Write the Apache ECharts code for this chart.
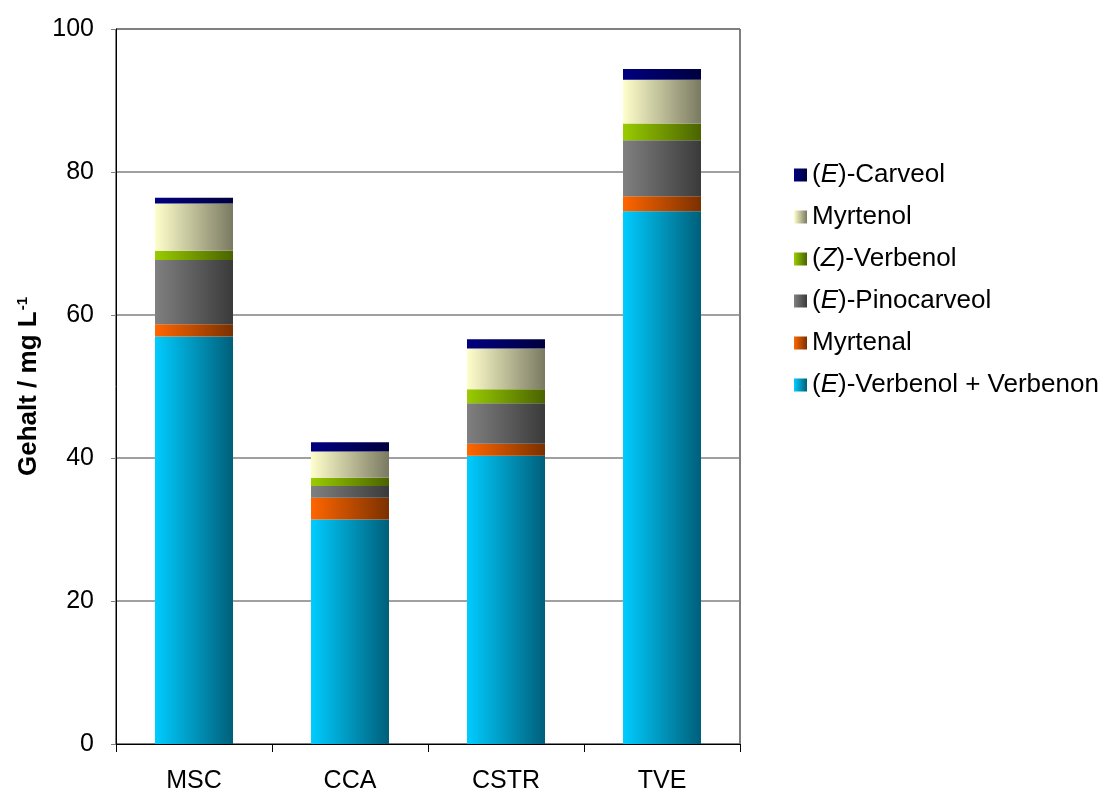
<!DOCTYPE html>
<html>
<head>
<meta charset="utf-8">
<script src="https://cdn.jsdelivr.net/npm/echarts@6/dist/echarts.min.js"></script>
<style>
  html, body { margin: 0; padding: 0; background: #fff; }
  #chart { width: 1109px; height: 794px; }
</style>
</head>
<body>
<div id="chart"></div>
<script>
const categories = ['MSC', 'CCA', 'CSTR', 'TVE'];

// stacked from bottom to top
const verbenolVerbenon = [57.0, 31.4, 40.3, 74.5];
const myrtenal = [1.7, 3.05, 1.7, 2.1];
const pinocarveol = [9.0, 1.65, 5.65, 7.85];
const zVerbenol = [1.3, 1.15, 1.95, 2.35];
const myrtenol = [6.6, 3.65, 5.7, 6.1];
const carveol = [0.8, 1.3, 1.3, 1.5];

const yTicks = [0, 20, 40, 60, 80, 100];

const seriesDefs = [
  { name: '(E)-Verbenol + Verbenon', data: verbenolVerbenon, from: '#00ccff', to: '#005f7a' },
  { name: 'Myrtenal', data: myrtenal, from: '#ff6600', to: '#7a3000' },
  { name: '(E)-Pinocarveol', data: pinocarveol, from: '#808080', to: '#3a3a3a' },
  { name: '(Z)-Verbenol', data: zVerbenol, from: '#99cc00', to: '#4a6300' },
  { name: 'Myrtenol', data: myrtenol, from: '#ffffcc', to: '#7a7a62' },
  { name: '(E)-Carveol', data: carveol, from: '#000080', to: '#00003e' }
];

const grad = (a, b) => new echarts.graphic.LinearGradient(0, 0, 1, 0, [
  { offset: 0, color: a },
  { offset: 1, color: b }
]);

const chart = echarts.init(document.getElementById('chart'));

const font = 'Liberation Sans, Arial, sans-serif';

chart.setOption({
  animation: false,
  textStyle: { fontFamily: font },
  grid: {
    left: 116, top: 29, right: 369, bottom: 50,
    outerBoundsMode: 'none',
    containLabel: false,
    show: true, borderColor: '#000', borderWidth: 1
  },
  legend: {
    orient: 'vertical',
    left: 789,
    top: 157,
    itemWidth: 13,
    itemHeight: 13,
    itemGap: 16,
    icon: 'rect',
    data: seriesDefs.map(s => s.name).reverse(),
    formatter: name => name.replace(/\((E|Z)\)/, '({i|$1})'),
    textStyle: {
      fontSize: 26,
      lineHeight: 26,
      color: '#000',
      fontFamily: font,
      rich: {
        i: { fontSize: 26, lineHeight: 26, fontStyle: 'italic', fontFamily: font, color: '#000' }
      }
    }
  },
  xAxis: {
    type: 'category',
    data: categories,
    axisLine: { lineStyle: { color: '#000', width: 1 } },
    axisTick: { show: true, length: 8, lineStyle: { color: '#000' } },
    axisLabel: { fontSize: 25, color: '#000', margin: 25, fontFamily: font }
  },
  yAxis: {
    type: 'value',
    min: yTicks[0],
    max: yTicks[yTicks.length - 1],
    interval: 20,
    name: '{b|Gehalt / mg L}{s|-1}',
    nameLocation: 'middle',
    nameGap: 74,
    nameRotate: 90,
    nameTextStyle: {
      rich: {
        b: { fontSize: 26, fontWeight: 'bold', color: '#000', fontFamily: font },
        s: { fontSize: 15, fontWeight: 'bold', color: '#000', fontFamily: font, verticalAlign: 'top', padding: [0, 0, 12, 1] }
      }
    },
    axisLine: { show: true, lineStyle: { color: '#000', width: 1 } },
    axisTick: { show: true, length: 5, lineStyle: { color: '#808080' } },
    axisLabel: { fontSize: 25, color: '#000', margin: 22, fontFamily: font },
    splitLine: { show: true, lineStyle: { color: '#808080', width: 1.5 } }
  },
  series: seriesDefs.map(s => ({
    name: s.name,
    type: 'bar',
    stack: 'total',
    barWidth: '50%',
    data: s.data,
    itemStyle: { color: grad(s.from, s.to) }
  }))
});
</script>
</body>
</html>
